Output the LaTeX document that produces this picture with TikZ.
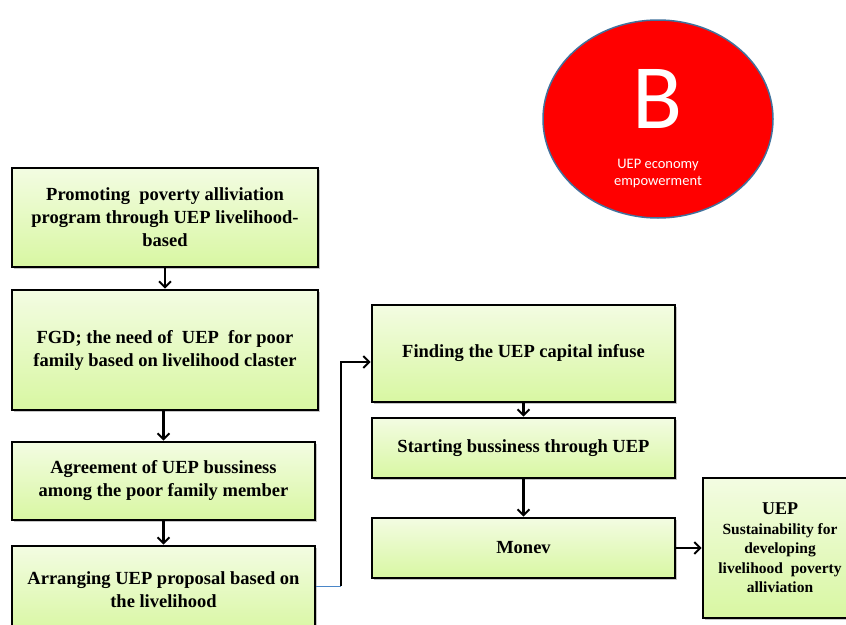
\documentclass[tikz,border=0pt]{standalone}
\usepackage{fontspec}
\setmainfont{Liberation Serif}
\newfontfamily\calib{Carlito}
\usetikzlibrary{shadows,arrows.meta,shapes.geometric}
\definecolor{boxtop}{HTML}{F3FCE2}
\definecolor{boxbot}{HTML}{D8F7A2}
\definecolor{ringblue}{HTML}{41719C}
\definecolor{thinblue}{HTML}{4A86C8}
\tikzset{
  stepbox/.style={draw=black, line width=2.6pt, top color=boxtop, bottom color=boxbot,
    drop shadow={opacity=0.45, shadow xshift=2pt, shadow yshift=-2pt},
    align=center, font=\bfseries\fontsize{18.5}{23}\selectfont, inner sep=0pt},
  flow/.style={line width=2.4pt, -{Straight Barb[length=6pt,width=12pt,line width=2pt]}},
}
\begin{document}
\begin{tikzpicture}[x=1pt,y=-1pt]
\useasboundingbox (0,0) rectangle (846,624);
\node[stepbox, minimum width=306pt, minimum height=99pt] (promo) at (165,217.5)
  {Promoting\ \ poverty alliviation\\program through UEP livelihood-\\based};
\node[stepbox, minimum width=306pt, minimum height=120pt] (fgd) at (165,350)
  {FGD; the need of\ \ UEP\ \ for poor\\family based on livelihood claster};
\node[stepbox, minimum width=303pt, minimum height=78pt] (agree) at (163.5,481)
  {Agreement of UEP bussiness\\among the poor family member};
\node[stepbox, minimum width=303pt, minimum height=88pt] (arrange) at (163.5,590)
  {Arranging UEP proposal based on\\the livelihood};
\node[stepbox, minimum width=303pt, minimum height=97pt] (find) at (523.5,353.5)
  {Finding the UEP capital infuse};
\node[stepbox, minimum width=303pt, minimum height=60pt] (start) at (523.5,448)
  {Starting bussiness through UEP};
\node[stepbox, minimum width=303pt, minimum height=60pt] (monev) at (523.5,548)
  {Monev};
\node[stepbox, minimum width=154pt, minimum height=140pt, font=\bfseries\fontsize{15.5}{19.5}\selectfont] (sust) at (780,548)
  {{\fontsize{18}{19.5}\selectfont UEP}\\Sustainability for\\developing\\livelihood\ \ poverty\\alliviation};
\node[ellipse, draw=ringblue, line width=1.5pt, fill=red, minimum width=230pt, minimum height=198pt, inner sep=0pt] (circ) at (658,119) {};
\node[text=white, font=\calib\fontsize{92}{92}\selectfont, anchor=base] (bl) at (658,128) {B};
\node[text=white, font=\calib\fontsize{14.5}{17}\selectfont, align=center] (bt) at (658,174) {UEP economy\\empowerment};
\draw[flow] (promo.south) -- (fgd.north);
\draw[flow] (fgd.south -| agree.north) -- (agree.north);
\draw[flow] (agree.south) -- (arrange.north);
\coordinate (bend) at (341,586);
\draw[thinblue, line width=0.8pt] (arrange.east |- bend) -- (bend);
\draw[flow] (bend) -- (341,362) -- (find.west |- 0,362);
\draw[flow] (find.south) -- (start.north);
\draw[flow] (start.south) -- (monev.north);
\draw[flow] (monev.east) -- (sust.west |- monev.east);
\end{tikzpicture}
\end{document}
